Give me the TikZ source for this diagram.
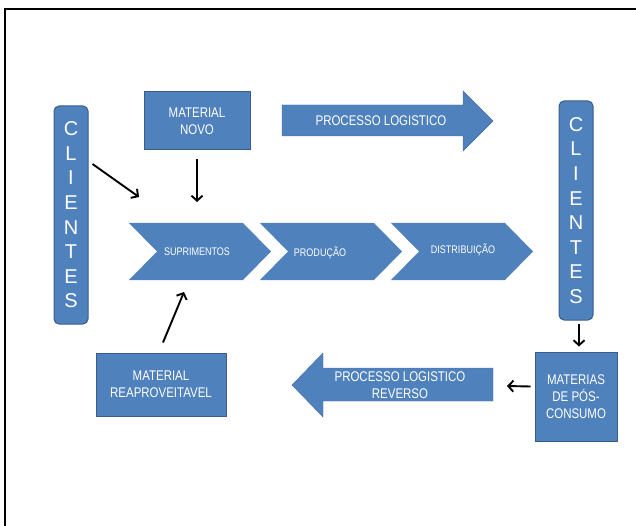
\documentclass[tikz,border=0pt]{standalone}
\usepackage{fontspec}
\setmainfont{Liberation Sans}
\newfontfamily\narrowfont[FakeStretch=0.82]{Liberation Sans}
\usepackage{xcolor}
\definecolor{boxblue}{HTML}{4F81BD}
\definecolor{boxedge}{HTML}{385D8A}
\usetikzlibrary{arrows.meta, positioning}

\begin{document}
\begin{tikzpicture}[x=1pt, y=-1pt,
  box/.style={draw=boxedge, line width=1pt, fill=boxblue, text=white, align=center, inner sep=0pt,
    font=\narrowfont\fontsize{14}{17}\selectfont},
  client/.style={draw=boxedge, line width=1pt, fill=boxblue, text=white, align=center, inner sep=0pt,
    rounded corners=5pt, minimum width=34pt, font=\fontsize{20}{24.6}\selectfont},
  blueform/.style={fill=boxblue, draw=boxblue!85!black, line width=0.4pt},
  txt/.style={text=white, align=center, inner sep=0pt, font=\narrowfont\fontsize{14}{17}\selectfont},
  smalltxt/.style={text=white, inner sep=0pt, font=\narrowfont\fontsize{11}{13}\selectfont},
  conn/.style={line width=1.9pt, -{Straight Barb[length=5pt, width=11pt]}}
]
  \useasboundingbox (0,0) rectangle (636,526);

  % Outer frame
  \draw[line width=2pt] (5,540) -- (5,9.5) -- (650,9.5);

  % Clients on both sides
  \node[client, minimum height=218pt] (clientesL) at (71,215) {C\\L\\I\\E\\N\\T\\E\\S};
  \node[client, minimum height=219pt] (clientesR) at (576,210.5) {C\\L\\I\\E\\N\\T\\E\\S};

  % Material boxes
  \node[box, minimum width=106pt, minimum height=58pt] (novo) at (197,121) {MATERIAL\\NOVO};
  \node[box, minimum width=130pt, minimum height=63pt] (reap) at (161,384.5) {MATERIAL\\REAPROVEITAVEL};
  \node[box, minimum width=82pt, minimum height=89pt] (pos) at (576,396.5) {MATERIAS\\DE PÓS-\\CONSUMO};

  % Chain of chevrons
  \foreach \x in {129, 260, 391}
    \fill[boxblue] (\x,223) -- ++(114,0) -- ++(28,28.5) -- ++(-28,28.5) -- ++(-114,0) -- ++(28,-28.5) -- cycle;
  \node[smalltxt] (supr) at (197,252) {SUPRIMENTOS};
  \node[smalltxt] (prod) at (320,253) {PRODUÇÃO};
  \node[smalltxt] (dist) at (463,250) {DISTRIBUIÇÃO};

  % Big process arrows
  \draw[blueform] (282,105) -- (463,105) -- (463,91) -- (493,121) -- (463,151) -- (463,136) -- (282,136) -- cycle;
  \node[txt] (proc) at (381,121) {PROCESSO LOGISTICO};
  \draw[blueform] (493,368) -- (323,368) -- (323,353) -- (292,385) -- (323,417) -- (323,401) -- (493,401) -- cycle;
  \node[txt] (rev) at (400,385) {PROCESSO LOGISTICO\\REVERSO};
  \coordinate (revtail) at (493,386);

  % Connectors
  \draw[conn] ([xshift=4pt, yshift=51pt]clientesL.east) -- ([xshift=-58pt, yshift=55pt]supr.center);
  \draw[conn] ([yshift=-9pt]novo.south) -- ([yshift=50pt]supr.center);
  \draw[conn] ([xshift=2pt, yshift=10pt]reap.north) -- ([xshift=-13pt, yshift=-40pt]supr.center);
  \draw[conn] ([xshift=3pt, yshift=-3pt]clientesR.south) -- ([xshift=3pt, yshift=5pt]pos.north);
  \draw[conn] ([xshift=-4pt, yshift=10pt]pos.west) -- ([xshift=14pt]revtail);
\end{tikzpicture}
\end{document}
